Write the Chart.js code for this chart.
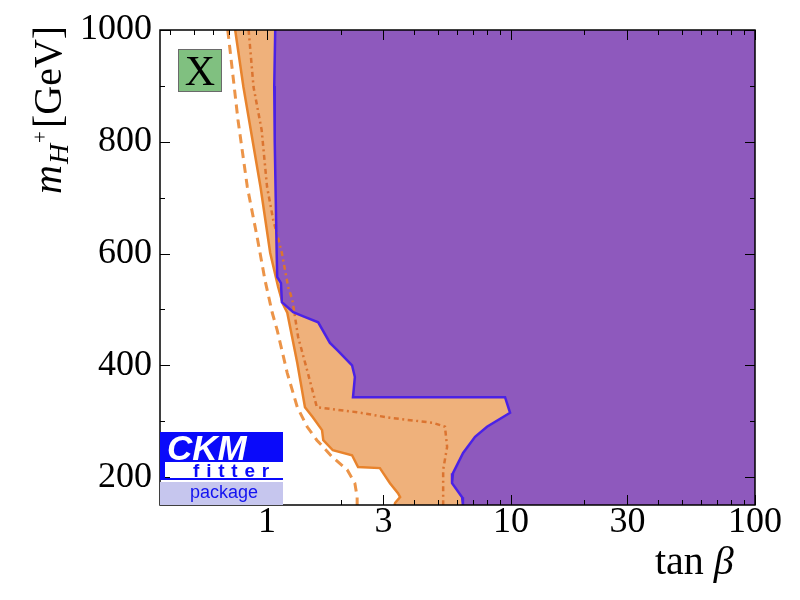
<!DOCTYPE html>
<html><head><meta charset="utf-8">
<script src="https://cdn.jsdelivr.net/npm/chart.js@4.4.1/dist/chart.umd.min.js"></script>
<style>html,body{margin:0;padding:0;background:#fff}</style>
</head><body>
<canvas id="c" width="800" height="600" style="width:800px;height:600px;display:block"></canvas>
<script>
// ---- axis limits & ticks ----
const X_MIN = 0.364, X_MAX = 100;
const Y_MIN = 150, Y_MAX = 1000;
const xTickValues = [0.4,0.5,0.6,0.7,0.8,0.9,1,2,3,4,5,6,7,8,9,10,20,30,40,50,60,70,80,90,100];
const xTickLabels = [1,3,10,30,100];
const yTickValues = [200,300,400,500,600,700,800,900,1000];
const yTickLabels = [200,400,600,800,1000];

// ---- purple (excluded) region boundary ----
const purpleTanB = [1.08,1.07,1.075,1.085,1.095,1.10,1.14,1.15,1.28,1.40,1.62,1.81,1.94,2.23,2.29,2.25,9.45,9.91,7.97,7.12,6.36,5.78,5.73,6.30,6.35];
const purpleMass = [1000,900,800,700,600,558,547,513,495,488,477,440,427,400,379,343,343,315,290,272,243,207,189,164,150];

// ---- orange region boundary (solid) ----
const orangeTanB = [0.74,0.80,0.94,1.03,1.11,1.16,1.21,1.33,1.43,1.54,1.68,1.70,1.86,2.23,2.36,2.90,3.19,3.44,3.51,3.35,3.33];
const orangeMass = [1000,898,719,601,540,510,494,404,325,307,284,266,248,239,218,216,189,171,164,154,150];

// ---- dashed orange contour ----
const dashedTanB = [0.69,0.76,0.83,0.91,0.98,1.05,1.10,1.21,1.33,1.46,1.60,1.85,2.13,2.29,2.34,2.34];
const dashedMass = [1000,839,719,630,553,494,463,386,325,290,266,236,213,189,164,150];

// ---- dash-dotted orange contour ----
const dashdotTanB = [0.84,0.88,0.95,1.00,1.06,1.15,1.22,1.27,1.34,1.47,1.60,2.34,3.19,4.79,5.36,5.47,5.27,5.27,5.27];
const dashdotMass = [1000,898,821,719,660,601,540,517,451,386,325,316,306,297,290,254,213,164,150];

const pts = (xs, ys) => xs.map((v, i) => ({x: v, y: ys[i]}));
const closeRight = arr => arr.concat([{x: X_MAX, y: Y_MIN}, {x: X_MAX, y: Y_MAX}]);

const COL = {
  purple: '#8E59BD', blue: '#4B22E6',
  orangeFill: '#EFB17B', orange: '#E8832C', dashed: '#EC9448', dashdot: '#DB7430'
};

const decor = {
  id: 'decor',
  afterDatasetsDraw(chart) {
    const {ctx, chartArea: a, scales: {x, y}} = chart;
    ctx.save();
    ctx.strokeStyle = '#000';
    ctx.lineWidth = 1;
    const seg = (x1, y1, x2, y2) => { ctx.beginPath(); ctx.moveTo(x1, y1); ctx.lineTo(x2, y2); ctx.stroke(); };
    xTickValues.forEach(v => {
      const px = Math.round(x.getPixelForValue(v)) + 0.5;
      const L = xTickLabels.includes(v) ? 10 : 5;
      seg(px, a.bottom, px, a.bottom - L);
      seg(px, a.top, px, a.top + L);
    });
    yTickValues.forEach(v => {
      const py = Math.round(y.getPixelForValue(v)) + 0.5;
      const L = yTickLabels.includes(v) ? 10 : 5;
      seg(a.left, py, a.left + L, py);
      seg(a.right, py, a.right - L, py);
    });
    ctx.lineWidth = 1.5;
    ctx.strokeRect(a.left, a.top, a.right - a.left, a.bottom - a.top);

    // "X" label box
    ctx.fillStyle = '#80C080';
    ctx.fillRect(178, 49, 44, 43);
    ctx.strokeStyle = '#6A6A6A'; ctx.lineWidth = 1;
    ctx.strokeRect(178.5, 49.5, 43, 42);
    ctx.fillStyle = '#000';
    ctx.font = '42px "Liberation Serif"';
    ctx.textAlign = 'center'; ctx.textBaseline = 'alphabetic';
    ctx.fillText('X', 200, 85);

    // CKMfitter logo
    const L0 = a.left, R0 = 283;
    ctx.fillStyle = '#0A0AFA';
    ctx.fillRect(L0, 432, R0 - L0, 30);
    ctx.fillRect(L0, 462, 5, 18);
    ctx.fillRect(L0, 478, R0 - L0, 2);
    ctx.fillStyle = '#C6C6EE';
    ctx.fillRect(L0, 482, R0 - L0, a.bottom - 482);
    ctx.fillStyle = '#FFFFFF';
    ctx.font = 'italic bold 35px "Liberation Sans"';
    ctx.textAlign = 'left';
    ctx.fillText('CKM', 167, 460);
    ctx.fillStyle = '#0A0AFA';
    ctx.font = 'bold 19px "Liberation Sans"';
    let fx = 193;
    for (const ch of 'fitter') { ctx.fillText(ch, fx, 477); fx += ctx.measureText(ch).width + 6.8; }
    ctx.font = '18px "Liberation Sans"';
    ctx.fillStyle = '#1414F0';
    ctx.fillText('package', 190, 498);

    // x axis title
    ctx.fillStyle = '#000';
    ctx.font = '40px "Liberation Serif"';
    ctx.textAlign = 'left';
    ctx.fillText('tan', 655, 574);
    const wt = ctx.measureText('tan ').width;
    ctx.font = 'italic 40px "Liberation Serif"';
    ctx.fillText('β', 655 + wt, 574);

    // y axis title (rotated)
    ctx.translate(61, 194);
    ctx.rotate(-Math.PI / 2);
    let tx = 0;
    ctx.font = 'italic 40px "Liberation Serif"';
    ctx.fillText('m', tx, 0); tx += ctx.measureText('m').width + 1;
    ctx.font = 'italic 28px "Liberation Serif"';
    ctx.fillText('H', tx, 7); const hw = ctx.measureText('H').width;
    ctx.font = '21px "Liberation Serif"';
    ctx.fillText('+', tx + hw + 1, -14); tx += hw + ctx.measureText('+').width + 4;
    ctx.font = '40px "Liberation Serif"';
    ctx.fillText('[GeV]', tx, 0);
    ctx.restore();
  }
};

new Chart(document.getElementById('c'), {
  type: 'scatter',
  data: {
    datasets: [
      {data: closeRight(pts(orangeTanB, orangeMass)), showLine: true, fill: 'shape', backgroundColor: COL.orangeFill, borderWidth: 0, pointRadius: 0, order: 10},
      {data: closeRight(pts(purpleTanB, purpleMass)), showLine: true, fill: 'shape', backgroundColor: COL.purple, borderWidth: 0, pointRadius: 0, order: 9},
      {data: pts(dashedTanB, dashedMass), showLine: true, fill: false, borderColor: COL.dashed, borderWidth: 3, borderDash: [9, 6], pointRadius: 0, order: 4},
      {data: pts(dashdotTanB, dashdotMass), showLine: true, fill: false, borderColor: COL.dashdot, borderWidth: 2.5, borderDash: [5, 3.5, 2, 3.5], pointRadius: 0, order: 3},
      {data: pts(orangeTanB, orangeMass), showLine: true, fill: false, borderColor: COL.orange, borderWidth: 2.5, pointRadius: 0, order: 2},
      {data: pts(purpleTanB, purpleMass), showLine: true, fill: false, borderColor: COL.blue, borderWidth: 2.5, pointRadius: 0, order: 1}
    ]
  },
  options: {
    responsive: false,
    devicePixelRatio: 1,
    animation: false,
    events: [],
    layout: {padding: {top: 30, right: 45, left: 0, bottom: 0}},
    plugins: {legend: {display: false}, tooltip: {enabled: false}},
    elements: {line: {tension: 0}},
    scales: {
      x: {
        type: 'logarithmic', position: 'bottom', min: X_MIN, max: X_MAX,
        grid: {display: false, drawTicks: false},
        border: {display: false},
        afterBuildTicks: s => { s.ticks = xTickValues.map(v => ({value: v})); },
        afterFit: s => { s.height = 95; },
        ticks: {
          autoSkip: false, maxRotation: 0, minRotation: 0, padding: 0, color: '#000',
          font: {family: 'Liberation Serif', size: 36, lineHeight: 1},
          callback: v => xTickLabels.includes(v) ? String(v) : ''
        }
      },
      y: {
        type: 'linear', position: 'left', min: Y_MIN, max: Y_MAX,
        grid: {display: false, drawTicks: false},
        border: {display: false},
        afterBuildTicks: s => { s.ticks = yTickValues.map(v => ({value: v})); },
        afterFit: s => { s.width = 160; },
        ticks: {
          autoSkip: false, padding: 8, color: '#000',
          font: {family: 'Liberation Serif', size: 36, lineHeight: 1},
          callback: v => yTickLabels.includes(v) ? String(v) : ''
        }
      }
    }
  },
  plugins: [decor]
});
</script>
</body></html>
